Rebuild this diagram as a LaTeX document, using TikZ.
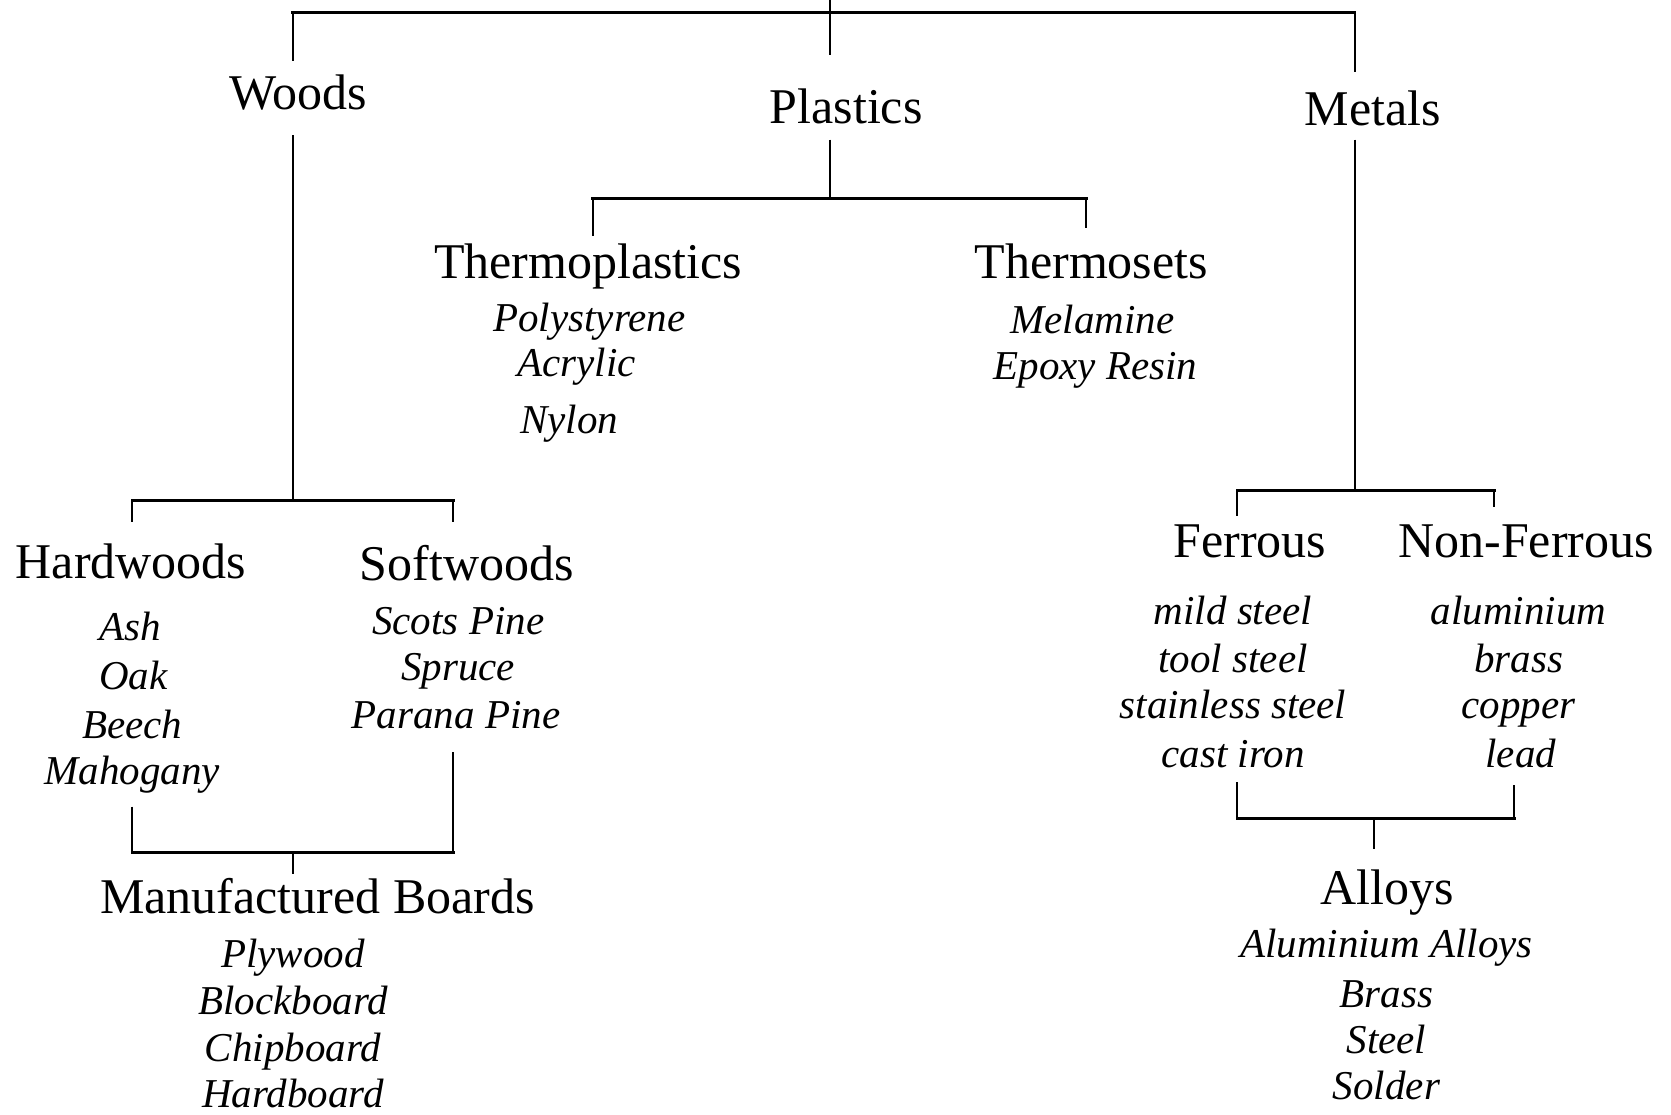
\documentclass[tikz,border=0pt]{standalone}
\usepackage{fontspec}
\setmainfont{Liberation Serif}
\newcommand{\headfnt}{\fontsize{25}{30}\selectfont}
\newcommand{\itemfnt}{\itshape\fontsize{20.5}{24}\selectfont}
\begin{document}
\begin{tikzpicture}[x=0.5329pt,y=-0.5329pt,
  head/.style={font=\headfnt, anchor=base, inner sep=0pt},
  item/.style={font=\itemfnt, anchor=base, inner sep=0pt},
  vline/.style={line width=1pt},
  hline/.style={line width=1.6pt, line cap=rect}]
\fill[white] (0,0) rectangle (1568,1046);
\useasboundingbox (0,0) rectangle (1568,1046);

% headings
\node[head] (woods) at (280,103) {Woods};
\node[head] (plastics) at (794,116) {Plastics};
\node[head] (metals) at (1288,118) {Metals};
\node[head] (thermoplastics) at (552,261) {Thermoplastics};
\node[head] (thermosets) at (1024,261) {Thermosets};
\node[head] (hardwoods) at (123,543) {Hardwoods};
\node[head] (softwoods) at (438,545) {Softwoods};
\node[head] (ferrous) at (1173,523) {Ferrous};
\node[head] (nonferrous) at (1432,523) {Non-Ferrous};
\node[head] (boards) at (298,857) {Manufactured Boards};
\node[head] (alloys) at (1302,849) {Alloys};

% items
\node[item] (polystyrene) at (553,311) {Polystyrene};
\node[item] (acrylic) at (541,353) {Acrylic};
\node[item] (nylon) at (534,407) {Nylon};
\node[item] (melamine) at (1025,313) {Melamine};
\node[item] (epoxy) at (1028,356) {Epoxy Resin};
\node[item] (ash) at (122,601) {Ash};
\node[item] (oak) at (125,647) {Oak};
\node[item] (beech) at (124,693) {Beech};
\node[item] (mahogany) at (124,736) {Mahogany};
\node[item] (scots) at (430,595) {Scots Pine};
\node[item] (spruce) at (430,639) {Spruce};
\node[item] (parana) at (428,684) {Parana Pine};
\node[item] (mild) at (1157,586) {mild steel};
\node[item] (tool) at (1157,631) {tool steel};
\node[item] (stainless) at (1157,674) {stainless steel};
\node[item] (cast) at (1157,720) {cast iron};
\node[item] (aluminium) at (1425,586) {aluminium};
\node[item] (brass) at (1425,631) {brass};
\node[item] (copper) at (1425,674) {copper};
\node[item] (lead) at (1427,720) {lead};
\node[item] (plywood) at (275,908) {Plywood};
\node[item] (blockboard) at (275,952) {Blockboard};
\node[item] (chipboard) at (275,996) {Chipboard};
\node[item] (hardboard) at (275,1039) {Hardboard};
\node[item] (alalloys) at (1301,898) {Aluminium Alloys};
\node[item] (brass2) at (1301,945) {Brass};
\node[item] (steel) at (1301,989) {Steel};
\node[item] (solder) at (1301,1032) {Solder};

% joint coordinates
\coordinate (top) at (779,0);
\coordinate (topend) at (779,52);
\coordinate (jw) at (275,12);
\coordinate (jm) at (1271,12);
\coordinate (wt) at (275,57);
\coordinate (mt) at (1271,68);
\coordinate (w1) at (275,127);
\coordinate (w2) at (275,470);
\coordinate (hl) at (124,470);
\coordinate (hr) at (425,470);
\coordinate (hd) at (124,490);
\coordinate (sd) at (425,490);
\coordinate (hu) at (124,757);
\coordinate (hb) at (124,800);
\coordinate (su) at (425,706);
\coordinate (sb) at (425,800);
\coordinate (mbj) at (275,800);
\coordinate (mbt) at (275,820);
\coordinate (p1) at (779,131);
\coordinate (p2) at (779,186);
\coordinate (tpl) at (556,186);
\coordinate (tsr) at (1019,186);
\coordinate (tpd) at (556,221);
\coordinate (tsd) at (1019,214);
\coordinate (m1) at (1271,131);
\coordinate (m2) at (1271,460);
\coordinate (fl) at (1161,460);
\coordinate (nfr) at (1402,460);
\coordinate (fd) at (1161,484);
\coordinate (nfd) at (1402,476);
\coordinate (fu) at (1161,734);
\coordinate (fb) at (1161,768);
\coordinate (nu) at (1421,737);
\coordinate (nb) at (1421,768);
\coordinate (aj) at (1289,768);
\coordinate (ad) at (1289,797);

% top level
\draw[vline] (top) -- (topend);
\draw[hline] (jw) -- (jm);
\draw[vline] (jw) -- (wt);
\draw[vline] (jm) -- (mt);

% woods
\draw[vline] (w1) -- (w2);
\draw[hline] (hl) -- (hr);
\draw[vline] (hl) -- (hd);
\draw[vline] (hr) -- (sd);
\draw[vline] (hu) -- (hb);
\draw[vline] (su) -- (sb);
\draw[hline] (hb) -- (sb);
\draw[vline] (mbj) -- (mbt);

% plastics
\draw[vline] (p1) -- (p2);
\draw[hline] (tpl) -- (tsr);
\draw[vline] (tpl) -- (tpd);
\draw[vline] (tsr) -- (tsd);

% metals
\draw[vline] (m1) -- (m2);
\draw[hline] (fl) -- (nfr);
\draw[vline] (fl) -- (fd);
\draw[vline] (nfr) -- (nfd);
\draw[vline] (fu) -- (fb);
\draw[vline] (nu) -- (nb);
\draw[hline] (fb) -- (nb);
\draw[vline] (aj) -- (ad);
\end{tikzpicture}
\end{document}
